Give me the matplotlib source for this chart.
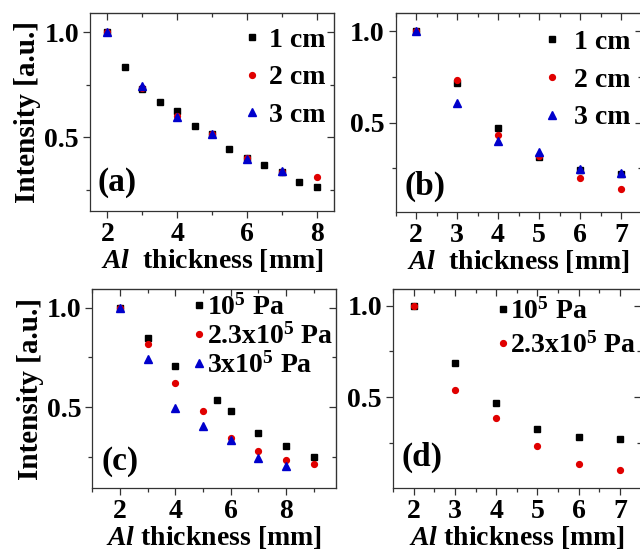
import matplotlib
matplotlib.use("Agg")
import matplotlib.pyplot as plt
from matplotlib.ticker import MultipleLocator, FormatStrFormatter

plt.rcParams['font.family'] = ['Liberation Serif', 'DejaVu Serif']
plt.rcParams['font.weight'] = 'bold'
plt.rcParams['axes.labelweight'] = 'bold'
plt.rcParams['mathtext.fontset'] = 'custom'
plt.rcParams['mathtext.rm'] = 'Liberation Serif:bold'
plt.rcParams['mathtext.bf'] = 'Liberation Serif:bold'
plt.rcParams['mathtext.it'] = 'Liberation Serif:italic:bold'
plt.rcParams['mathtext.bfit'] = 'Liberation Serif:italic:bold'
plt.rcParams['mathtext.default'] = 'bf'

# ---- data ----
a_x1 = [2, 2.5, 3, 3.5, 4, 4.5, 5, 5.5, 6, 6.5, 7, 7.5, 8]
a_y1 = [1.0, 0.836, 0.728, 0.668, 0.624, 0.555, 0.515, 0.446, 0.40, 0.370, 0.335, 0.286, 0.263]
a_x2 = [2, 3, 4, 5, 6, 7, 8]
a_y2 = [1.0, 0.735, 0.603, 0.515, 0.40, 0.335, 0.31]
a_x3 = [2, 3, 4, 5, 6, 7]
a_y3 = [1.0, 0.743, 0.595, 0.517, 0.398, 0.338]

b_x = [2, 3, 4, 5, 6, 7]
b_y1 = [1.0, 0.715, 0.471, 0.311, 0.242, 0.22]
b_y2 = [1.0, 0.733, 0.434, 0.32, 0.198, 0.14]
b_y3 = [1.0, 0.607, 0.40, 0.34, 0.245, 0.225]

c_x1 = [2, 3, 4, 5.5, 6, 7, 8, 9]
c_y1 = [1.0, 0.846, 0.706, 0.535, 0.48, 0.37, 0.306, 0.251]
c_x2 = [2, 3, 4, 5, 6, 7, 8, 9]
c_y2 = [1.0, 0.818, 0.624, 0.482, 0.348, 0.281, 0.234, 0.214]
c_x3 = [2, 3, 4, 5, 6, 7, 8]
c_y3 = [1.0, 0.741, 0.498, 0.408, 0.336, 0.247, 0.204]

d_x = [2, 3, 4, 5, 6, 7]
d_y1 = [1.0, 0.685, 0.469, 0.325, 0.28, 0.269]
d_y2 = [1.0, 0.539, 0.387, 0.232, 0.132, 0.099]

labels_dist = ['1 cm', '2 cm', '3 cm']
labels_pres = [r'10$^5$ Pa', r'2.3x10$^5$ Pa', r'3x10$^5$ Pa']
xlabel_top = r'$\mathbfit{Al}$  thickness [mm]'
xlabel_bot = r'$\mathbfit{Al}$ thickness [mm]'
ylabel = 'Intensity [a.u.]'

BLACK = '#000000'
RED = '#e00000'
BLUE = '#0000cc'

W, H = 640, 552
fig = plt.figure(figsize=(W / 100, H / 100), dpi=100)


def px_axes(l, r, t, b):
    return fig.add_axes([l / W, 1 - b / H, (r - l) / W, (b - t) / H])


def style(ax, xlim, ylim, xmaj, xmin):
    ax.set_xlim(*xlim)
    ax.set_ylim(*ylim)
    ax.xaxis.set_major_locator(MultipleLocator(xmaj))
    ax.xaxis.set_minor_locator(MultipleLocator(xmin))
    ax.yaxis.set_major_locator(MultipleLocator(0.5))
    ax.yaxis.set_minor_locator(MultipleLocator(0.25))
    ax.yaxis.set_major_formatter(FormatStrFormatter('%.1f'))
    ax.tick_params(which='both', direction='out', top=False, right=False,
                   labelsize=20, width=0.9, color='#333333')
    ax.tick_params(which='major', length=5, pad=3)
    ax.tick_params(which='minor', length=3)
    for s in ax.spines.values():
        s.set_linewidth(0.9)
        s.set_color('#333333')
    sec = ax.secondary_xaxis('top')
    sec.xaxis.set_major_locator(MultipleLocator(xmaj))
    sec.xaxis.set_minor_locator(MultipleLocator(xmin))
    sec.tick_params(which='both', direction='in', labeltop=False, width=0.9, color='#333333')
    sec.tick_params(which='major', length=5)
    sec.tick_params(which='minor', length=3)
    secy = ax.secondary_yaxis('right')
    secy.yaxis.set_major_locator(MultipleLocator(0.5))
    secy.yaxis.set_minor_locator(MultipleLocator(0.25))
    secy.tick_params(which='both', direction='in', labelright=False, width=0.9, color='#333333')
    secy.tick_params(which='major', length=5)
    secy.tick_params(which='minor', length=3)


def leg(ax, fs, hx, ty, spacing, pad):
    ax.legend(loc='upper left', bbox_to_anchor=(hx / W, 1 - ty / H),
              bbox_transform=fig.transFigure, frameon=False, numpoints=1,
              fontsize=fs, handlelength=0.5, handletextpad=pad,
              labelspacing=spacing, borderpad=0, borderaxespad=0)


ms_sq, ms_c, ms_t = 4.2, 4.2, 5.5

# (a)
ax = px_axes(90, 334, 12.7, 210.7)
ax.plot(a_x1, a_y1, 's', color=BLACK, ms=ms_sq, label=labels_dist[0])
ax.plot(a_x2, a_y2, 'o', color=RED, ms=ms_c, label=labels_dist[1])
ax.plot(a_x3, a_y3, '^', color=BLUE, ms=ms_t, label=labels_dist[2])
style(ax, (1.5, 8.5), (0.15, 1.093), 2, 1)
ax.set_xlabel(xlabel_top, fontsize=20, labelpad=0)
ax.set_ylabel(ylabel, fontsize=21, labelpad=2)
ax.text(0.11, 0.14, '(a)', transform=ax.transAxes, fontsize=24, ha='center', va='center')
leg(ax, 20, 245, 27.3, 0.44, 0.35)

# (b)
ax = px_axes(395.5, 641.5, 13.3, 211.7)
ax.plot(b_x, b_y1, 's', color=BLACK, ms=ms_sq, label=labels_dist[0])
ax.plot(b_x, b_y2, 'o', color=RED, ms=ms_c, label=labels_dist[1])
ax.plot(b_x, b_y3, '^', color=BLUE, ms=ms_t, label=labels_dist[2])
style(ax, (1.5, 7.5), (0.014, 1.097), 1, 0.5)
ax.set_xlabel(xlabel_top, fontsize=20, labelpad=0)
ax.text(0.118, 0.126, '(b)', transform=ax.transAxes, fontsize=24, ha='center', va='center')
leg(ax, 20, 545, 29.7, 0.44, 0.55)

# (c)
ax = px_axes(92.3, 336, 289.3, 488.3)
ax.plot(c_x1, c_y1, 's', color=BLACK, ms=ms_sq, label=labels_pres[0])
ax.plot(c_x2, c_y2, 'o', color=RED, ms=ms_c, label=labels_pres[1])
ax.plot(c_x3, c_y3, '^', color=BLUE, ms=ms_t, label=labels_pres[2])
style(ax, (1.0, 9.8), (0.094, 1.092), 2, 1)
ax.set_xlabel(xlabel_bot, fontsize=20, labelpad=0)
ax.set_ylabel(ylabel, fontsize=21, labelpad=2)
ax.text(0.114, 0.137, '(c)', transform=ax.transAxes, fontsize=24, ha='center', va='center')
leg(ax, 20, 192.4, 294.5, 0.09, 0.02)

# (d)
ax = px_axes(393.1, 640.5, 289, 487.7)
ax.plot(d_x, d_y1, 's', color=BLACK, ms=ms_sq, label=labels_pres[0])
ax.plot(d_x, d_y2, 'o', color=RED, ms=ms_c, label=labels_pres[1])
style(ax, (1.5, 7.5), (0.004, 1.091), 1, 0.5)
ax.set_xlabel(xlabel_bot, fontsize=20, labelpad=0)
ax.text(0.116, 0.152, '(d)', transform=ax.transAxes, fontsize=24, ha='center', va='center')
leg(ax, 20, 495.8, 298.3, 0.26, 0.02)

fig.savefig('out.png', dpi=100)
